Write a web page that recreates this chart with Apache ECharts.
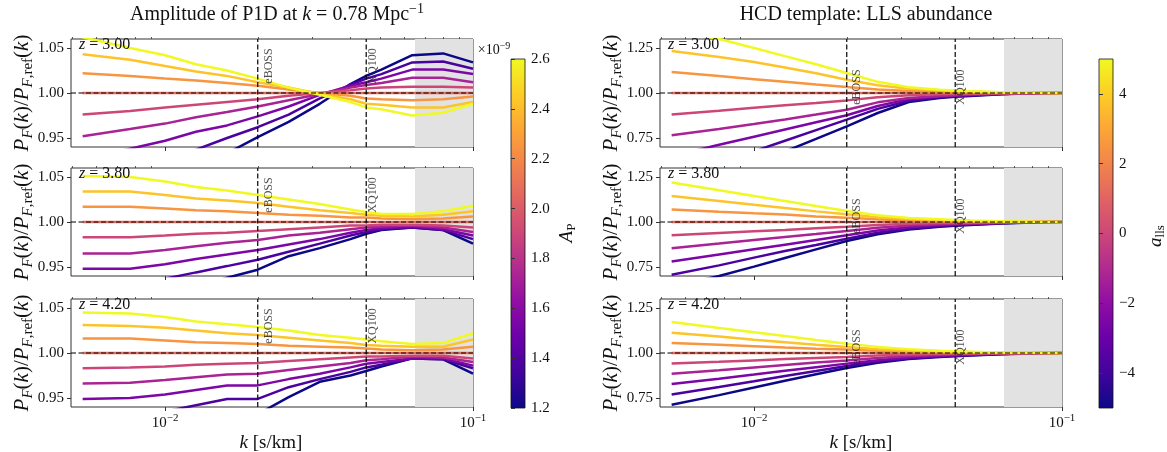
<!DOCTYPE html>
<html><head><meta charset="utf-8">
<script src="https://cdn.jsdelivr.net/npm/echarts@6/dist/echarts.min.js"></script>
<style>html,body{margin:0;padding:0;background:#fff}#c{width:1167px;height:452px}</style>
</head><body><div id="c"></div>
<script>
// ---------------- data ----------------
const K = [0.0054, 0.0077, 0.0100, 0.0126, 0.0159, 0.0200, 0.0252, 0.0318, 0.0400, 0.0450, 0.0504, 0.0635, 0.0800, 0.1000];
const REDSHIFTS = ['3.00', '3.80', '4.20'];
const AP_VALUES = [1.2, 1.375, 1.55, 1.725, 1.9, 2.075, 2.25, 2.425, 2.6];
const ALLS_VALUES = [-5, -3.75, -2.5, -1.25, 0, 1.25, 2.5, 3.75, 5];

const AP_Z300 = [
  [0.875, 0.889, 0.902, 0.916, 0.933, 0.951, 0.968, 0.988, 1.010, 1.019, 1.026, 1.042, 1.044, 1.034],
  [0.900, 0.912, 0.924, 0.937, 0.950, 0.962, 0.976, 0.994, 1.009, 1.016, 1.021, 1.034, 1.035, 1.027],
  [0.927, 0.938, 0.947, 0.957, 0.964, 0.974, 0.985, 0.998, 1.008, 1.012, 1.016, 1.026, 1.026, 1.021],
  [0.952, 0.960, 0.966, 0.973, 0.979, 0.985, 0.992, 0.999, 1.006, 1.009, 1.011, 1.017, 1.017, 1.012],
  [0.976, 0.980, 0.984, 0.987, 0.990, 0.993, 0.997, 1.000, 1.003, 1.005, 1.006, 1.007, 1.007, 1.006],
  [1.000, 1.000, 1.000, 1.000, 1.000, 1.000, 1.000, 1.000, 1.000, 1.000, 1.000, 1.000, 1.000, 1.000],
  [1.022, 1.019, 1.016, 1.014, 1.011, 1.008, 1.004, 1.000, 0.997, 0.994, 0.993, 0.992, 0.993, 0.996],
  [1.043, 1.037, 1.030, 1.024, 1.019, 1.012, 1.006, 0.999, 0.993, 0.988, 0.987, 0.984, 0.984, 0.990],
  [1.062, 1.050, 1.042, 1.032, 1.025, 1.016, 1.006, 0.998, 0.990, 0.984, 0.982, 0.975, 0.978, 0.988]
];
const AP_Z380 = [
  [0.912, 0.912, 0.920, 0.928, 0.938, 0.947, 0.962, 0.971, 0.981, 0.987, 0.991, 0.994, 0.991, 0.976],
  [0.930, 0.930, 0.937, 0.944, 0.951, 0.958, 0.967, 0.976, 0.985, 0.989, 0.992, 0.994, 0.991, 0.981],
  [0.948, 0.948, 0.953, 0.959, 0.964, 0.969, 0.975, 0.981, 0.988, 0.991, 0.993, 0.995, 0.992, 0.985],
  [0.965, 0.965, 0.969, 0.973, 0.977, 0.980, 0.985, 0.988, 0.992, 0.994, 0.995, 0.996, 0.994, 0.989],
  [0.983, 0.983, 0.985, 0.987, 0.988, 0.990, 0.992, 0.994, 0.996, 0.996, 0.997, 0.997, 0.996, 0.994],
  [1.000, 1.000, 1.000, 1.000, 1.000, 1.000, 1.000, 1.000, 1.000, 1.000, 1.000, 1.000, 1.000, 1.000],
  [1.017, 1.017, 1.015, 1.013, 1.012, 1.010, 1.008, 1.007, 1.005, 1.005, 1.004, 1.003, 1.004, 1.006],
  [1.034, 1.034, 1.030, 1.026, 1.024, 1.021, 1.017, 1.013, 1.010, 1.008, 1.007, 1.006, 1.008, 1.012],
  [1.051, 1.050, 1.045, 1.039, 1.035, 1.030, 1.025, 1.020, 1.014, 1.011, 1.009, 1.009, 1.012, 1.018]
];
const AP_Z420 = [
  [0.905, 0.907, 0.912, 0.918, 0.924, 0.932, 0.951, 0.968, 0.975, 0.980, 0.985, 0.994, 0.993, 0.977],
  [0.925, 0.928, 0.935, 0.942, 0.949, 0.949, 0.962, 0.971, 0.979, 0.984, 0.987, 0.994, 0.993, 0.983],
  [0.949, 0.950, 0.954, 0.959, 0.964, 0.964, 0.971, 0.977, 0.984, 0.988, 0.990, 0.994, 0.994, 0.986],
  [0.966, 0.967, 0.970, 0.973, 0.976, 0.977, 0.981, 0.985, 0.989, 0.992, 0.993, 0.996, 0.995, 0.990],
  [0.983, 0.984, 0.985, 0.987, 0.988, 0.989, 0.991, 0.993, 0.995, 0.996, 0.996, 0.997, 0.997, 0.994],
  [1.000, 1.000, 1.000, 1.000, 1.000, 1.000, 1.000, 1.000, 1.000, 1.000, 1.000, 1.000, 1.000, 1.000],
  [1.016, 1.016, 1.014, 1.012, 1.011, 1.010, 1.008, 1.007, 1.006, 1.005, 1.004, 1.003, 1.004, 1.007],
  [1.031, 1.030, 1.028, 1.025, 1.022, 1.020, 1.017, 1.014, 1.011, 1.009, 1.008, 1.007, 1.007, 1.015],
  [1.045, 1.044, 1.040, 1.035, 1.032, 1.029, 1.025, 1.020, 1.017, 1.015, 1.013, 1.010, 1.011, 1.022]
];
const HCD_Z300 = [
  [0.430, 0.530, 0.610, 0.675, 0.745, 0.815, 0.889, 0.950, 0.972, 0.979, 0.984, 0.993, 0.998, 1.000],
  [0.520, 0.610, 0.676, 0.735, 0.794, 0.852, 0.912, 0.957, 0.976, 0.982, 0.986, 0.994, 0.998, 1.000],
  [0.650, 0.712, 0.757, 0.797, 0.837, 0.876, 0.928, 0.966, 0.980, 0.986, 0.989, 0.995, 0.999, 1.000],
  [0.765, 0.800, 0.828, 0.853, 0.880, 0.907, 0.948, 0.972, 0.983, 0.988, 0.991, 0.996, 0.999, 1.000],
  [0.881, 0.902, 0.918, 0.932, 0.945, 0.959, 0.977, 0.988, 0.993, 0.995, 0.996, 0.998, 0.999, 1.000],
  [1.000, 1.000, 1.000, 1.000, 1.000, 1.000, 1.000, 1.000, 1.000, 1.000, 1.000, 1.000, 1.000, 1.000],
  [1.117, 1.094, 1.077, 1.062, 1.047, 1.033, 1.020, 1.011, 1.007, 1.005, 1.004, 1.002, 1.001, 1.000],
  [1.233, 1.200, 1.172, 1.142, 1.110, 1.074, 1.043, 1.024, 1.015, 1.011, 1.008, 1.003, 1.001, 1.000],
  [1.350, 1.300, 1.250, 1.205, 1.160, 1.111, 1.062, 1.032, 1.018, 1.014, 1.010, 1.004, 1.001, 1.000]
];
const HCD_Z380 = [
  [0.640, 0.700, 0.752, 0.800, 0.848, 0.894, 0.932, 0.958, 0.973, 0.979, 0.984, 0.992, 0.997, 1.000],
  [0.707, 0.759, 0.802, 0.839, 0.872, 0.907, 0.940, 0.963, 0.977, 0.982, 0.986, 0.993, 0.998, 1.000],
  [0.780, 0.819, 0.848, 0.874, 0.900, 0.926, 0.953, 0.971, 0.982, 0.986, 0.989, 0.994, 0.998, 1.000],
  [0.854, 0.880, 0.900, 0.917, 0.933, 0.950, 0.968, 0.980, 0.987, 0.990, 0.992, 0.996, 0.999, 1.000],
  [0.926, 0.939, 0.948, 0.956, 0.965, 0.974, 0.984, 0.990, 0.994, 0.995, 0.996, 0.998, 0.999, 1.000],
  [1.000, 1.000, 1.000, 1.000, 1.000, 1.000, 1.000, 1.000, 1.000, 1.000, 1.000, 1.000, 1.000, 1.000],
  [1.070, 1.057, 1.048, 1.041, 1.031, 1.024, 1.015, 1.009, 1.006, 1.005, 1.004, 1.002, 1.001, 1.000],
  [1.144, 1.117, 1.096, 1.078, 1.059, 1.043, 1.026, 1.017, 1.011, 1.009, 1.006, 1.003, 1.001, 1.000],
  [1.219, 1.176, 1.144, 1.117, 1.089, 1.061, 1.037, 1.022, 1.015, 1.011, 1.008, 1.004, 1.001, 1.000]
];
const HCD_Z420 = [
  [0.713, 0.766, 0.808, 0.846, 0.882, 0.917, 0.946, 0.966, 0.978, 0.982, 0.986, 0.993, 0.997, 1.000],
  [0.770, 0.811, 0.843, 0.872, 0.900, 0.928, 0.953, 0.970, 0.981, 0.985, 0.988, 0.994, 0.998, 1.000],
  [0.828, 0.857, 0.880, 0.901, 0.921, 0.941, 0.960, 0.975, 0.984, 0.987, 0.990, 0.995, 0.998, 1.000],
  [0.885, 0.904, 0.920, 0.934, 0.947, 0.959, 0.972, 0.983, 0.989, 0.991, 0.993, 0.997, 0.999, 1.000],
  [0.941, 0.951, 0.959, 0.966, 0.972, 0.978, 0.986, 0.992, 0.995, 0.996, 0.997, 0.999, 1.000, 1.000],
  [1.000, 1.000, 1.000, 1.000, 1.000, 1.000, 1.000, 1.000, 1.000, 1.000, 1.000, 1.000, 1.000, 1.000],
  [1.056, 1.046, 1.038, 1.030, 1.024, 1.019, 1.012, 1.007, 1.005, 1.004, 1.003, 1.001, 1.000, 1.000],
  [1.113, 1.092, 1.074, 1.060, 1.046, 1.033, 1.021, 1.013, 1.008, 1.006, 1.005, 1.002, 1.001, 1.000],
  [1.172, 1.139, 1.115, 1.094, 1.072, 1.052, 1.034, 1.021, 1.013, 1.010, 1.007, 1.003, 1.001, 1.000]
];

const X_MAJOR_TICKS = [0.01, 0.1];
const X_MINOR_TICKS = [0.005, 0.006, 0.007, 0.008, 0.009, 0.02, 0.03, 0.04, 0.05, 0.06, 0.07, 0.08, 0.09];
const Y_TICKS_AP = [0.95, 1.00, 1.05];
const Y_TICKS_HCD = [0.75, 1.00, 1.25];
const CB_TICKS_AP = [1.2, 1.4, 1.6, 1.8, 2.0, 2.2, 2.4, 2.6];
const CB_TICKS_HCD = [-4, -2, 0, 2, 4];
const EBOSS_K = 0.02, XQ100_K = 0.045, SHADE_K = 0.0648, REF_RATIO = 1.0;

// ---------------- style / layout ----------------
const X_MIN = 0.00495, X_MAX = 0.1;
const SERIF = '"Liberation Serif", "DejaVu Serif", serif';
const TXT = '#111';
const PLASMA = ['#0d0887', '#41049d', '#6a00a8', '#8f0da4', '#b12a90', '#cc4778', '#e16462', '#f2844b', '#fca636', '#fcce25', '#f0f921'];
function hex2rgb(h) { return [1, 3, 5].map(i => parseInt(h.substr(i, 2), 16)); }
function plasma(t) {
  t = Math.max(0, Math.min(1, t));
  const p = t * (PLASMA.length - 1), i = Math.min(Math.floor(p), PLASMA.length - 2), f = p - i;
  const a = hex2rgb(PLASMA[i]), b = hex2rgb(PLASMA[i + 1]);
  return 'rgb(' + a.map((v, j) => Math.round(v + (b[j] - v) * f)).join(',') + ')';
}
const PANEL_LEFT = [71, 660], PANEL_W = 402, PANEL_TOPS = [39, 168, 299], PANEL_H = 108;

const COLUMNS = [
  { panels: [AP_Z300, AP_Z380, AP_Z420], values: AP_VALUES, ymin: 0.94, ymax: 1.06, yticks: Y_TICKS_AP, labY: 1.03 },
  { panels: [HCD_Z300, HCD_Z380, HCD_Z420], values: ALLS_VALUES, ymin: 0.70, ymax: 1.30, yticks: Y_TICKS_HCD, labY: 1.033 }
];

const RICH = (fs) => ({
  n: { fontFamily: SERIF, fontSize: fs, color: TXT, fill: TXT, verticalAlign: 'middle' },
  i: { fontFamily: SERIF, fontSize: fs, fontStyle: 'italic', color: TXT, fill: TXT, verticalAlign: 'middle' },
  sub: { fontFamily: SERIF, fontSize: Math.round(fs * 0.7), color: TXT, fill: TXT, padding: [Math.round(fs * 0.55), 0, 0, 0], verticalAlign: 'middle' },
  subi: { fontFamily: SERIF, fontSize: Math.round(fs * 0.7), fontStyle: 'italic', color: TXT, fill: TXT, padding: [Math.round(fs * 0.55), 0, 0, 0], verticalAlign: 'middle' },
  sup: { fontFamily: SERIF, fontSize: Math.round(fs * 0.7), color: TXT, fill: TXT, padding: [0, 0, Math.round(fs * 0.6), 0], verticalAlign: 'middle' }
});

const grids = [], xAxes = [], yAxes = [], series = [], graphics = [];
const dashStyle = { color: '#000', type: [5, 2.5], width: 1.2 };
COLUMNS.forEach((col, c) => {
  col.panels.forEach((rows, r) => {
    const g = grids.length;
    grids.push({ left: PANEL_LEFT[c], top: PANEL_TOPS[r], width: PANEL_W, height: PANEL_H, show: true, borderColor: '#333', borderWidth: 1, backgroundColor: 'transparent', containLabel: false });
    const bottom = r === 2;
    xAxes.push({
      gridIndex: g, type: 'log', logBase: 10, min: X_MIN, max: X_MAX,
      axisLine: { show: false }, splitLine: { show: false },
      axisTick: { show: true, inside: false, length: 4, customValues: X_MAJOR_TICKS, lineStyle: { color: '#333', width: 1 } },
      axisLabel: {
        show: bottom, customValues: X_MAJOR_TICKS, margin: 6,
        formatter: v => '{n|10}{sup|−' + Math.round(-Math.log10(v)) + '}',
        rich: RICH(15)
      }
    });
    xAxes.push({
      gridIndex: g, type: 'log', logBase: 10, min: X_MIN, max: X_MAX,
      axisLine: { show: false }, splitLine: { show: false },
      axisTick: { show: true, inside: false, length: 2, customValues: X_MINOR_TICKS, lineStyle: { color: '#333', width: 0.8 } },
      axisLabel: { show: false }
    });
    yAxes.push({
      gridIndex: g, type: 'value', min: col.ymin, max: col.ymax,
      axisLine: { show: false }, splitLine: { show: false },
      axisTick: { show: true, inside: false, length: 4, customValues: col.yticks, lineStyle: { color: '#333', width: 1 } },
      axisLabel: { customValues: col.yticks, formatter: v => v.toFixed(2), fontFamily: SERIF, fontSize: 15, color: TXT, margin: 7 }
    });
    const xi = 2 * g;
    // shaded region
    series.push({ type: 'line', xAxisIndex: xi, yAxisIndex: g, data: [], z: 1, silent: true,
      markArea: { silent: true, itemStyle: { color: '#e2e2e2' }, data: [[{ xAxis: SHADE_K }, { xAxis: X_MAX }]] } });
    // curves
    rows.forEach((vals, i) => {
      const col_ = plasma(i / (rows.length - 1));
      series.push({
        type: 'line', name: String(col.values[i]), xAxisIndex: xi, yAxisIndex: g,
        data: K.map((k, j) => [k, vals[j]]), symbol: 'none', showSymbol: false, clip: true, silent: true, z: 2,
        color: col_, lineStyle: { width: 2.5, color: col_ }
      });
    });
    // dashed reference lines
    [[[EBOSS_K, col.ymin], [EBOSS_K, col.ymax]], [[XQ100_K, col.ymin], [XQ100_K, col.ymax]], [[X_MIN, REF_RATIO], [X_MAX, REF_RATIO]]].forEach(seg => {
      series.push({ type: 'line', xAxisIndex: xi, yAxisIndex: g, data: seg, z: 5, silent: true, symbol: 'none', showSymbol: false,
        color: '#000', lineStyle: dashStyle });
    });
    // survey labels
    series.push({ type: 'scatter', xAxisIndex: xi, yAxisIndex: g, symbolSize: 0, silent: true, z: 6,
      label: { show: true, position: 'inside', rotate: 90, formatter: '{b}', fontFamily: SERIF, fontSize: 12, color: '#222' },
      data: [
        { name: 'eBOSS', value: [EBOSS_K, col.labY], label: { offset: [0, c === 0 ? 11 : 10] } },
        { name: 'XQ100', value: [XQ100_K, col.labY], label: { offset: [0, c === 0 ? 7 : 6] } }
      ] });
    // z label
    graphics.push({ type: 'text', x: PANEL_LEFT[c] + 8, y: PANEL_TOPS[r] + 6, z: 100,
      style: { text: '{i|z}{n| = ' + REDSHIFTS[r] + '}', rich: RICH(16), align: 'left', verticalAlign: 'middle' } });
    // y label
    graphics.push({ type: 'text', x: c === 0 ? 22 : 611, y: PANEL_TOPS[r] + PANEL_H / 2, rotation: Math.PI / 2, z: 100,
      style: { text: '{i|P}{subi|F}{n|(}{i|k}{n|)/}{i|P}{subi|F}{sub|,ref}{n|(}{i|k}{n|)}', rich: RICH(21), align: 'center', verticalAlign: 'middle' } });
  });
});

// colorbars
const CB = [
  { left: 511, min: 1.2, max: 2.6, ticks: CB_TICKS_AP, fmt: v => v.toFixed(1) },
  { left: 1099, min: -5, max: 5, ticks: CB_TICKS_HCD, fmt: v => (v < 0 ? '−' + Math.abs(v) : String(v)) }
];
CB.forEach(cb => {
  const g = grids.length;
  grids.push({ left: cb.left, top: 59, width: 14, height: 349, show: true, borderColor: '#111', borderWidth: 0.8,
    backgroundColor: { type: 'linear', x: 0, y: 1, x2: 0, y2: 0, colorStops: PLASMA.map((h, i) => ({ offset: i / (PLASMA.length - 1), color: h })) } });
  xAxes.push({ gridIndex: g, type: 'value', min: 0, max: 1, show: false });
  yAxes.push({ gridIndex: g, type: 'value', position: 'right', min: cb.min, max: cb.max,
    axisLine: { show: false }, splitLine: { show: false },
    axisTick: { show: true, inside: false, length: 4, customValues: cb.ticks, lineStyle: { color: '#333', width: 1 } },
    axisLabel: { customValues: cb.ticks, formatter: cb.fmt, fontFamily: SERIF, fontSize: 15, color: TXT, margin: 6 } });
});

// titles and other text
graphics.push({ type: 'text', x: 277, y: 15, style: { text: '{n|Amplitude of P1D at }{i|k}{n| = 0.78 Mpc}{sup|−1}', rich: RICH(20), align: 'center', verticalAlign: 'middle' } });
graphics.push({ type: 'text', x: 866, y: 15, style: { text: '{n|HCD template: LLS abundance}', rich: RICH(20), align: 'center', verticalAlign: 'middle' } });
graphics.push({ type: 'text', x: 271, y: 443, style: { text: '{i|k}{n| [s/km]}', rich: RICH(19), align: 'center', verticalAlign: 'middle' } });
graphics.push({ type: 'text', x: 861, y: 443, style: { text: '{i|k}{n| [s/km]}', rich: RICH(19), align: 'center', verticalAlign: 'middle' } });
graphics.push({ type: 'text', x: 494, y: 50, style: { text: '{n|×10}{sup|−9}', rich: RICH(14), align: 'center', verticalAlign: 'middle' } });
graphics.push({ type: 'text', x: 567, y: 233, rotation: Math.PI / 2, style: { text: '{i|A}{sub|P}', rich: RICH(19), align: 'center', verticalAlign: 'middle' } });
graphics.push({ type: 'text', x: 1156, y: 236, rotation: Math.PI / 2, style: { text: '{i|a}{sub|lls}', rich: RICH(19), align: 'center', verticalAlign: 'middle' } });

const chart = echarts.init(document.getElementById('c'), null, { renderer: 'canvas' });
chart.setOption({
  animation: false,
  backgroundColor: '#fff',
  grid: grids, xAxis: xAxes, yAxis: yAxes, series: series, graphic: graphics
});
</script>
</body></html>
